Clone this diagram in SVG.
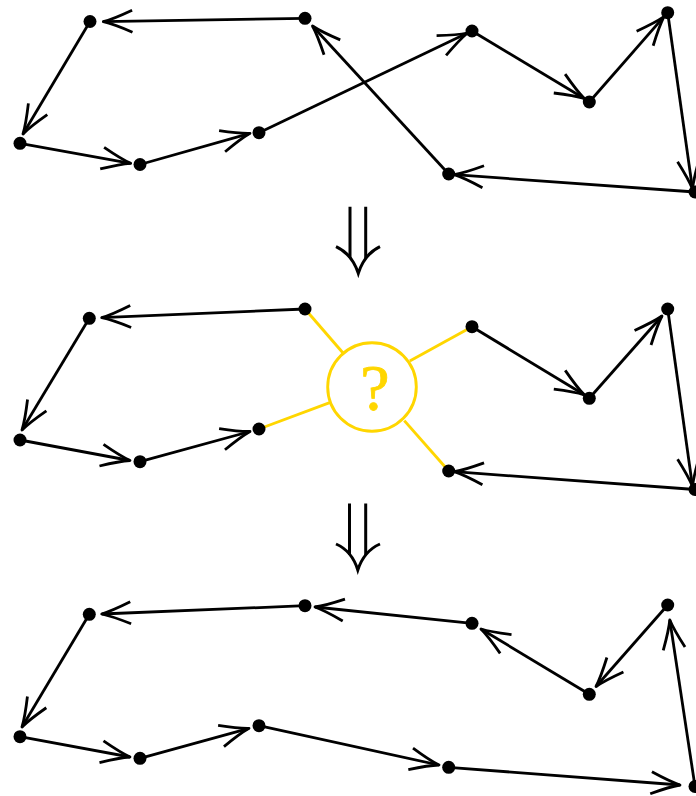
<svg xmlns="http://www.w3.org/2000/svg" width="696" height="796" viewBox="0 0 696 796">
  <defs>
    <style>
      .edge { stroke: #000; stroke-width: 2.8; fill: none; marker-end: url(#to); }
      .dot { fill: #000; }
      .link { stroke: #FFD600; stroke-width: 2.9; fill: none; }
      .step { stroke: #000; stroke-width: 3; fill: none; stroke-linecap: butt; }
    </style>
    <marker id="to" viewBox="-32 -14 36 28" markerWidth="36" markerHeight="28" refX="0" refY="0" orient="auto" markerUnits="userSpaceOnUse">
      <path d="M-29,-11 Q-10,-2.5 0,0 Q-10,2.5 -29,11" fill="none" stroke="#000" stroke-width="2.8" stroke-linejoin="round"/>
    </marker>
  </defs>
  <rect width="696" height="796" fill="#fff"/>

  <!-- tour before the move -->
  <g id="tour-before">
    <g id="connectors-1">
      <line class="edge" x1="305" y1="18.3" x2="103.3" y2="21.7"/>
      <line class="edge" x1="90" y1="21.5" x2="23" y2="134"/>
      <line class="edge" x1="20" y1="143.3" x2="130.7" y2="163.3"/>
      <line class="edge" x1="140" y1="164.5" x2="250" y2="133.3"/>
      <line class="edge" x1="259" y1="132.7" x2="467.5" y2="33"/>
      <line class="edge" x1="472" y1="31" x2="584.3" y2="98.5"/>
      <line class="edge" x1="589.3" y1="102" x2="664" y2="16.7"/>
      <line class="edge" x1="667.7" y1="12.7" x2="692.5" y2="189"/>
      <line class="edge" x1="695" y1="192" x2="454.3" y2="174.7"/>
      <line class="edge" x1="448.7" y1="174" x2="312.5" y2="26"/>
    </g>
    <g id="p1-a"><circle class="dot" cx="90" cy="21.5" r="6.5"/></g>
    <g id="p1-b"><circle class="dot" cx="305" cy="18.3" r="6.5"/></g>
    <g id="p1-c"><circle class="dot" cx="20" cy="143.3" r="6.5"/></g>
    <g id="p1-d"><circle class="dot" cx="140" cy="164.5" r="6.5"/></g>
    <g id="p1-e"><circle class="dot" cx="259" cy="132.7" r="6.5"/></g>
    <g id="p1-f"><circle class="dot" cx="472" cy="31" r="6.5"/></g>
    <g id="p1-g"><circle class="dot" cx="589.3" cy="102" r="6.5"/></g>
    <g id="p1-h"><circle class="dot" cx="667.7" cy="12.7" r="6.5"/></g>
    <g id="p1-i"><circle class="dot" cx="695" cy="192" r="6.5"/></g>
    <g id="p1-j"><circle class="dot" cx="448.7" cy="174" r="6.5"/></g>
  </g>

  <!-- implies arrow -->
  <g id="step-1">
    <path class="step" d="M350,206.7 V258 M365.7,206.7 V258"/>
    <path class="step" d="M336,246.7 Q352,254 358.3,273.3 Q364.5,254 380,246.7"/>
  </g>

  <!-- tour with two edges removed -->
  <g id="tour-open">
    <g id="connectors-2">
      <line class="edge" x1="305" y1="309" x2="101.7" y2="317.7"/>
      <line class="edge" x1="89.3" y1="318.3" x2="22" y2="430"/>
      <line class="edge" x1="20" y1="440" x2="130" y2="460.5"/>
      <line class="edge" x1="140" y1="461.7" x2="250" y2="431.5"/>
      <line class="edge" x1="472" y1="326.7" x2="584.3" y2="394.8"/>
      <line class="edge" x1="589.3" y1="398.3" x2="662" y2="316"/>
      <line class="edge" x1="667.7" y1="309" x2="692.5" y2="486.5"/>
      <line class="edge" x1="695" y1="489.5" x2="454.3" y2="471.7"/>
      <line class="link" x1="305" y1="309" x2="343.7" y2="353.7"/>
      <line class="link" x1="259" y1="429" x2="330.4" y2="402.3"/>
      <line class="link" x1="472" y1="326.7" x2="409.8" y2="361"/>
      <line class="link" x1="448.7" y1="471" x2="404.3" y2="420.6"/>
    </g>
    <g id="unknown">
      <circle cx="372" cy="387" r="44.3" fill="none" stroke="#FFD600" stroke-width="2.9"/>
      <text x="375" y="410" text-anchor="middle" font-family="'Liberation Serif', serif" font-size="66" fill="#FFD600" stroke="#FFD600" stroke-width="0.8">?</text>
    </g>
    <g id="p2-a"><circle class="dot" cx="89.3" cy="318.3" r="6.5"/></g>
    <g id="p2-b"><circle class="dot" cx="305" cy="309" r="6.5"/></g>
    <g id="p2-c"><circle class="dot" cx="20" cy="440" r="6.5"/></g>
    <g id="p2-d"><circle class="dot" cx="140" cy="461.7" r="6.5"/></g>
    <g id="p2-e"><circle class="dot" cx="259" cy="429" r="6.5"/></g>
    <g id="p2-f"><circle class="dot" cx="472" cy="326.7" r="6.5"/></g>
    <g id="p2-g"><circle class="dot" cx="589.3" cy="398.3" r="6.5"/></g>
    <g id="p2-h"><circle class="dot" cx="667.7" cy="309" r="6.5"/></g>
    <g id="p2-i"><circle class="dot" cx="695" cy="489.5" r="6.5"/></g>
    <g id="p2-j"><circle class="dot" cx="448.7" cy="471" r="6.5"/></g>
  </g>

  <!-- implies arrow -->
  <g id="step-2">
    <path class="step" d="M349.5,503.5 V555 M365.7,503.5 V555"/>
    <path class="step" d="M336,544 Q352,551 357.8,570 Q364,551 380,544"/>
  </g>

  <!-- tour after the move -->
  <g id="tour-after">
    <g id="connectors-3">
      <line class="edge" x1="305" y1="605.7" x2="101.7" y2="614"/>
      <line class="edge" x1="89.3" y1="614.3" x2="22" y2="727"/>
      <line class="edge" x1="20" y1="736.7" x2="130" y2="757"/>
      <line class="edge" x1="140" y1="758.3" x2="249" y2="728.3"/>
      <line class="edge" x1="259" y1="725.7" x2="439" y2="765"/>
      <line class="edge" x1="448.7" y1="767.3" x2="680" y2="785"/>
      <line class="edge" x1="695" y1="786.5" x2="669.8" y2="620"/>
      <line class="edge" x1="667.7" y1="605" x2="596" y2="686.5"/>
      <line class="edge" x1="589.3" y1="694.3" x2="481" y2="629"/>
      <line class="edge" x1="472" y1="623.3" x2="315" y2="607"/>
    </g>
    <g id="p3-a"><circle class="dot" cx="89.3" cy="614.3" r="6.5"/></g>
    <g id="p3-b"><circle class="dot" cx="305" cy="605.7" r="6.5"/></g>
    <g id="p3-c"><circle class="dot" cx="20" cy="736.7" r="6.5"/></g>
    <g id="p3-d"><circle class="dot" cx="140" cy="758.3" r="6.5"/></g>
    <g id="p3-e"><circle class="dot" cx="259" cy="725.7" r="6.5"/></g>
    <g id="p3-f"><circle class="dot" cx="472" cy="623.3" r="6.5"/></g>
    <g id="p3-g"><circle class="dot" cx="589.3" cy="694.3" r="6.5"/></g>
    <g id="p3-h"><circle class="dot" cx="667.7" cy="605" r="6.5"/></g>
    <g id="p3-i"><circle class="dot" cx="695" cy="786.5" r="6.5"/></g>
    <g id="p3-j"><circle class="dot" cx="448.7" cy="767.3" r="6.5"/></g>
  </g>
</svg>
